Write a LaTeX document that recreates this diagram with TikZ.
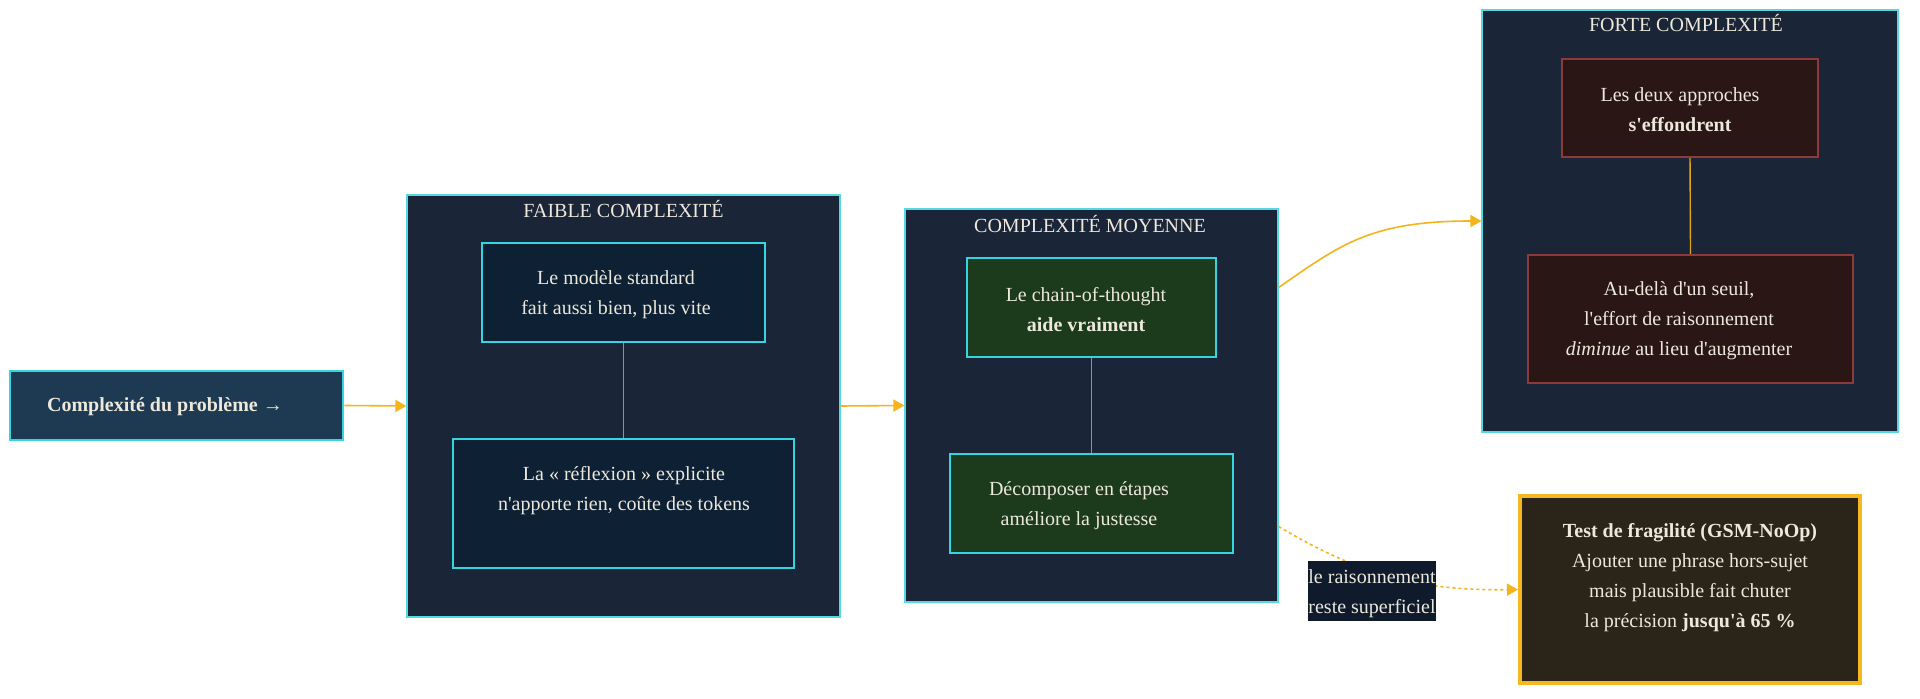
\documentclass[tikz,border=0pt]{standalone}
\usepackage{fontspec}
\setmainfont{Liberation Serif}
\newfontfamily\plainrm{Liberation Serif}
\usetikzlibrary{arrows.meta,calc}
\definecolor{clfill}{HTML}{1B2538}
\definecolor{clborder}{HTML}{56D8E4}
\definecolor{cyanb}{HTML}{36D3E0}
\definecolor{infill}{HTML}{1D3A52}
\definecolor{ffill}{HTML}{0E2033}
\definecolor{mfill}{HTML}{1C3A1C}
\definecolor{hfill}{HTML}{2B1616}
\definecolor{hborder}{HTML}{8E3A3A}
\definecolor{gfill}{HTML}{2B2418}
\definecolor{gborder}{HTML}{F6B820}
\definecolor{lblfill}{HTML}{0F1B2D}
\definecolor{txt}{HTML}{ECE8DC}
\definecolor{arr}{HTML}{F4B41A}
\definecolor{linkdim}{HTML}{B8902C}
\definecolor{linkbright}{HTML}{E2A51A}
\tikzset{
  cluster/.style={draw=clborder, line width=0.6pt, fill=clfill, inner sep=0pt},
  inbox/.style={draw=cyanb, line width=1.4pt, fill=infill, inner sep=0pt},
  fbox/.style={draw=cyanb, line width=1.2pt, fill=ffill, inner sep=0pt},
  mbox/.style={draw=cyanb, line width=1.2pt, fill=mfill, inner sep=0pt},
  hbox/.style={draw=hborder, line width=1.2pt, fill=hfill, inner sep=0pt},
  gbox/.style={draw=gborder, line width=2pt, fill=gfill, inner sep=0pt},
  txtnode/.style={text=txt, align=center, inner sep=0pt, font=\plainrm\fontsize{10}{15}\selectfont},
  ttl/.style={text=txt, inner sep=0pt, font=\plainrm\fontsize{10}{12}\selectfont},
  flow/.style={draw=arr, line width=0.8pt, -{Triangle[length=5.5pt,width=6pt]}},
  inner link/.style={draw=linkdim, line width=0.8pt},
}
\begin{document}
\begin{tikzpicture}[x=0.5pt,y=-0.5pt]
\useasboundingbox (0,0) rectangle (1920,699);
\fill[white] (0,0) rectangle (1920,699);

% clusters
\node[cluster, minimum width=216.5pt, minimum height=211pt] (fcl) at (623.5,406) {};
\node[cluster, minimum width=186.5pt, minimum height=196.5pt] (mcl) at (1091.5,405.5) {};
\node[cluster, minimum width=208pt, minimum height=211pt] (hcl) at (1690,221) {};

\node[ttl] (ftitle) at (623.5,209) {FAIBLE COMPLEXITÉ};
\node[ttl] (mtitle) at (1090,224) {COMPLEXITÉ MOYENNE};
\node[ttl] (htitle) at (1686,23) {FORTE COMPLEXITÉ};

% input
\node[inbox, minimum width=166.5pt, minimum height=34.5pt] (in) at (176.5,405.5) {};
\node[txtnode, font=\plainrm\fontsize{10}{15}\selectfont\bfseries] (intext) at (165,407) {Complexité du problème →};

% faible
\node[fbox, minimum width=141.5pt, minimum height=49.5pt] (f1) at (623.5,292.5) {};
\node[fbox, minimum width=170.5pt, minimum height=64.5pt] (f2) at (623.5,503.5) {};
\node[txtnode] (f1t) at (616,295) {Le modèle standard\\fait aussi bien, plus vite};
\node[txtnode] (f2t) at (624,491) {La « réflexion » explicite\\n'apporte rien, coûte des tokens};

% moyenne
\node[mbox, minimum width=124.5pt, minimum height=49.5pt] (m1) at (1091.5,307.5) {};
\node[mbox, minimum width=141.5pt, minimum height=49.5pt] (m2) at (1091.5,503.5) {};
\node[txtnode] (m1t) at (1086,310) {Le chain-of-thought\\\textbf{aide vraiment}};
\node[txtnode] (m2t) at (1079,506) {Décomposer en étapes\\améliore la justesse};

% forte
\node[hbox, minimum width=128pt, minimum height=49pt] (h1) at (1690,108) {};
\node[hbox, minimum width=162.5pt, minimum height=64pt] (h2) at (1690.5,319) {};
\node[txtnode] (h1t) at (1680,110) {Les deux approches\\\textbf{s'effondrent}};
\node[txtnode] (h2t) at (1679,321) {Au-delà d'un seuil,\\l'effort de raisonnement\\\textit{diminue} au lieu d'augmenter};

% gsm
\node[gbox, minimum width=170pt, minimum height=93.5pt] (gsm) at (1690,589.5) {};
\node[txtnode] (gsmt) at (1690,578) {\textbf{Test de fragilité (GSM-NoOp)}\\Ajouter une phrase hors-sujet\\mais plausible fait chuter\\la précision \textbf{jusqu'à 65 \%}};

% inner links
\draw[inner link] (f1.south) -- (f2.north);
\draw[inner link] (m1.south) -- (m2.north);
\draw[draw=linkbright, line width=0.7pt] (h1.south) -- (h2.north);

% flow
\draw[flow] (in.east) -- (fcl.west);
\draw[flow] (fcl.east) -- (mcl.west);
\draw[flow] ([yshift=59pt]mcl.east) .. controls (1340,245) and (1370,221) .. (hcl.west);
\draw[flow, dash pattern=on 1.5pt off 1.5pt] ([yshift=-60.5pt]mcl.east) .. controls (1360,575) and (1420,591) .. (gsm.west);

% edge label
\node[fill=lblfill, text=txt, inner sep=0pt, minimum width=62pt, minimum height=29.5pt, font=\plainrm\fontsize{10}{15}\selectfont] (lbl) at (1372,590.5) {\raisebox{-1.2pt}[\height][\depth]{\begin{tabular}{@{}c@{}}le raisonnement\\reste superficiel\end{tabular}}};
\end{tikzpicture}
\end{document}
